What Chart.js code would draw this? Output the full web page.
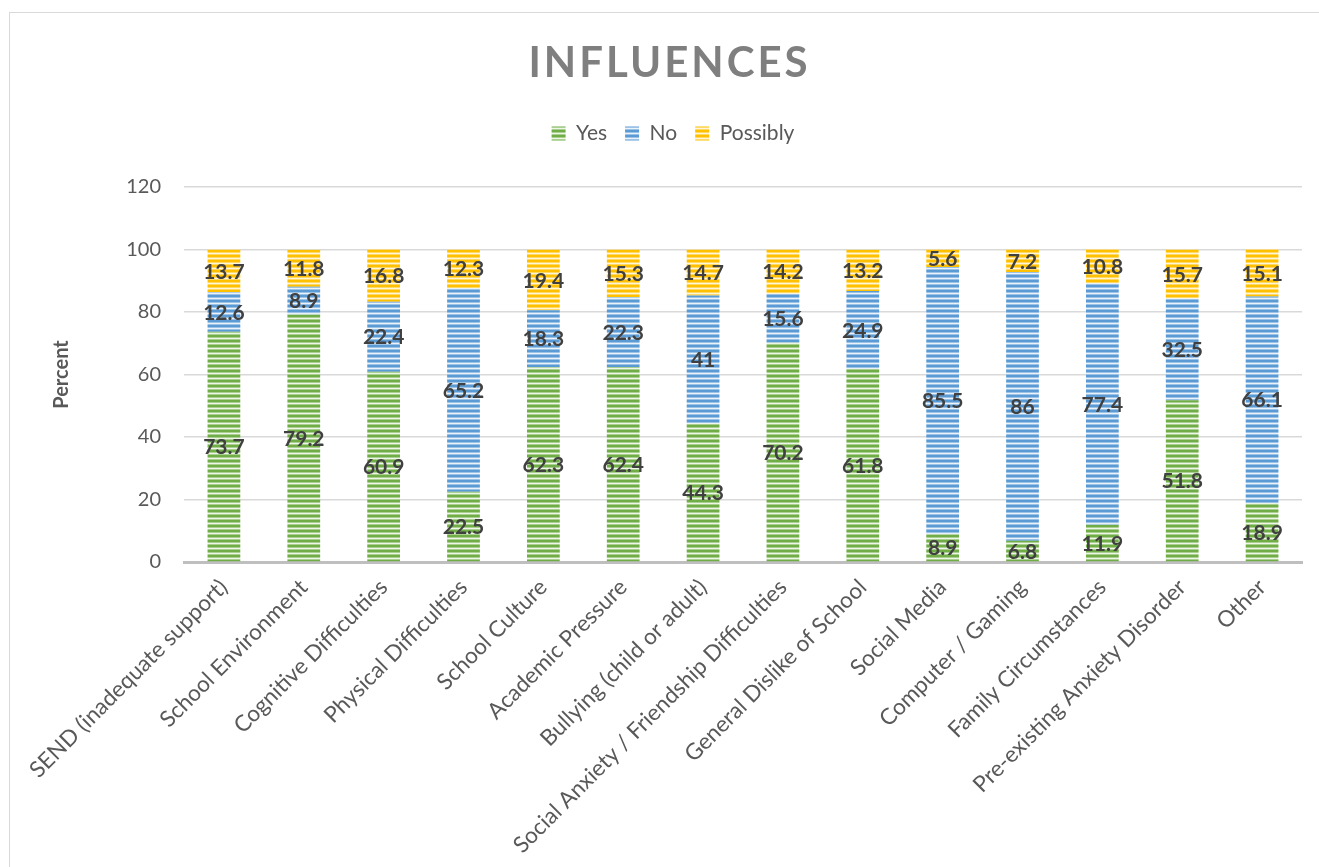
<!DOCTYPE html>
<html>
<head>
<meta charset="utf-8">
<script src="https://cdn.jsdelivr.net/npm/chart.js@4.4.1/dist/chart.umd.min.js"></script>
<style>
  body { margin: 0; background: #fff; overflow: hidden; }
  #frame { position: absolute; left: 9px; top: 12px; width: 1330px; height: 900px; border: 1px solid #d9d9d9; }
  #wrap { position: absolute; left: 0; top: 0; width: 1319px; height: 867px; }
</style>
</head>
<body>
<div id="frame"></div>
<div id="wrap"><canvas id="chart"></canvas></div>
<script>
var categories = [
  'SEND (inadequate support)', 'School Environment', 'Cognitive Difficulties',
  'Physical Difficulties', 'School Culture', 'Academic Pressure',
  'Bullying (child or adult)', 'Social Anxiety / Friendship Difficulties',
  'General Dislike of School', 'Social Media', 'Computer / Gaming',
  'Family Circumstances', 'Pre-existing Anxiety Disorder', 'Other'
];
var yesValues      = [73.7, 79.2, 60.9, 22.5, 62.3, 62.4, 44.3, 70.2, 61.8, 8.9, 6.8, 11.9, 51.8, 18.9];
var noValues       = [12.6, 8.9, 22.4, 65.2, 18.3, 22.3, 41, 15.6, 24.9, 85.5, 86, 77.4, 32.5, 66.1];
var possiblyValues = [13.7, 11.8, 16.8, 12.3, 19.4, 15.3, 14.7, 14.2, 13.2, 5.6, 7.2, 10.8, 15.7, 15.1];
var yTicks = [0, 20, 40, 60, 80, 100, 120];

Chart.defaults.font.family = "Lato, 'Open Sans', sans-serif";
Chart.defaults.color = '#595959';

// horizontal stripe fill like the excel pattern
function stripes(color, mid, light) {
  var c = document.createElement('canvas');
  c.width = 8; c.height = 5;
  var g = c.getContext('2d');
  g.fillStyle = color; g.fillRect(0, 0, 8, 5);
  g.fillStyle = mid; g.fillRect(0, 2, 8, 1); g.fillRect(0, 4, 8, 1);
  g.fillStyle = light; g.fillRect(0, 3, 8, 1);
  return g.createPattern(c, 'repeat');
}

var greenFill = stripes('#70ad47', '#a9cf91', '#eef6e8');
var blueFill  = stripes('#5b9bd5', '#9cc3e6', '#eaf2fa');
var goldFill  = stripes('#ffc000', '#ffd966', '#fff6d9');

// value labels in the middle of each segment
var midLabels = {
  id: 'midLabels',
  afterDatasetsDraw: function(chart) {
    var ctx = chart.ctx;
    ctx.save();
    ctx.font = "bold 21px Lato, 'Open Sans', sans-serif";
    ctx.fillStyle = '#404040';
    ctx.textAlign = 'center';
    ctx.textBaseline = 'middle';
    chart.data.datasets.forEach(function(ds, i) {
      var meta = chart.getDatasetMeta(i);
      meta.data.forEach(function(bar, j) {
        ctx.fillText(String(ds.data[j]), bar.x, (bar.y + bar.base) / 2 + 1);
      });
    });
    ctx.restore();
  }
};

// spaced out title
var spacedTitle = {
  id: 'spacedTitle',
  afterDraw: function(chart) {
    var ctx = chart.ctx;
    ctx.save();
    ctx.font = "bold 42px Lato, 'Open Sans', sans-serif";
    ctx.fillStyle = '#7f7f7f';
    ctx.letterSpacing = '3px';
    ctx.textAlign = 'center';
    ctx.textBaseline = 'middle';
    ctx.fillText('INFLUENCES', 668 + 1.5, 63);
    ctx.restore();
  }
};

// more room under the legend, and nudge it right like the original
var legendGap = {
  id: 'legendGap',
  beforeInit: function(chart) {
    var fit = chart.legend.fit;
    chart.legend.fit = function() {
      fit.bind(chart.legend)();
      this.height += 33;
    };
  },
  afterLayout: function(chart) {
    chart.legend.left += 22;
    chart.legend.right += 22;
  }
};

var data = {
  labels: categories,
  datasets: [
    { label: 'Yes', data: yesValues, backgroundColor: greenFill },
    { label: 'No', data: noValues, backgroundColor: blueFill },
    { label: 'Possibly', data: possiblyValues, backgroundColor: goldFill }
  ]
};

var config = {
  type: 'bar',
  data: data,
  plugins: [midLabels, spacedTitle, legendGap],
  options: {
    responsive: true,
    maintainAspectRatio: false,
    animation: false,
    datasets: { bar: { barPercentage: 0.41, categoryPercentage: 1 } },
    layout: { padding: { top: 105, right: 17, left: 0, bottom: 0 } },
    plugins: {
      title: { display: false },
      tooltip: { enabled: false },
      legend: {
        position: 'top',
        labels: {
          boxWidth: 14,
          boxHeight: 14,
          padding: 18,
          color: '#595959',
          font: { size: 21 }
        }
      }
    },
    scales: {
      x: {
        stacked: true,
        grid: { display: false },
        border: { color: '#bfbfbf', width: 3 },
        ticks: {
          color: '#595959',
          font: { size: 22.5 },
          minRotation: 45,
          maxRotation: 45,
          autoSkip: false,
          padding: 4
        },
        afterFit: function(scale) { scale.height = 305; }
      },
      y: {
        stacked: true,
        min: 0,
        max: 120,
        afterBuildTicks: function(scale) {
          scale.ticks = yTicks.map(function(v) { return { value: v }; });
        },
        grid: { color: '#d9d9d9', lineWidth: 1.5, drawTicks: false },
        border: { display: false },
        ticks: { color: '#595959', font: { size: 20 }, padding: 23 },
        title: {
          display: true,
          text: 'Percent',
          color: '#595959',
          font: { size: 20, weight: 'bold' },
          padding: { top: 50, bottom: 0 }
        },
        afterFit: function(scale) { scale.width = 184; }
      }
    }
  }
};

var myChart = new Chart(document.getElementById('chart').getContext('2d'), config);
</script>
</body>
</html>
